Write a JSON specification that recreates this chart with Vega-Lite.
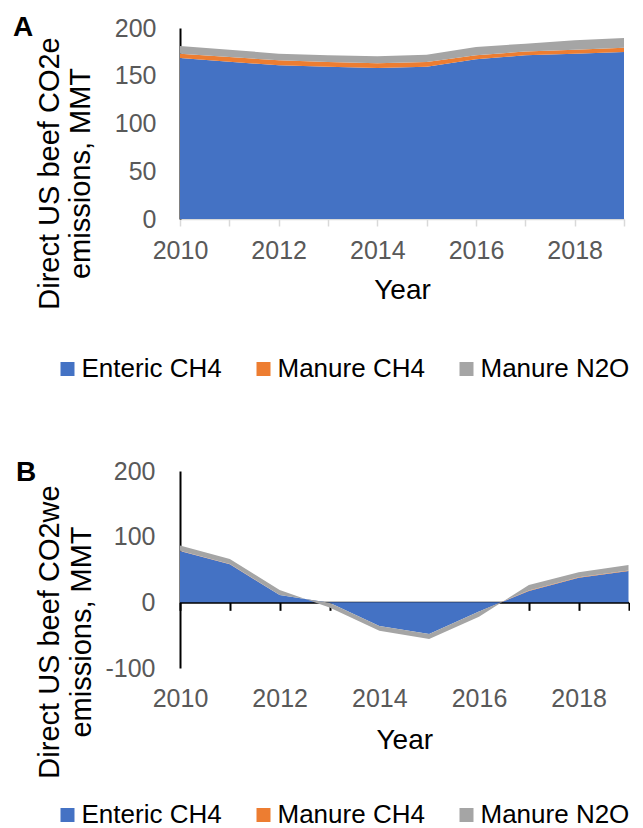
{
  "$schema": "https://vega.github.io/schema/vega-lite/v6.json",
  "padding": {"left": 13, "top": 14, "right": 0, "bottom": 0},
  "spacing": 76,
  "config": {
    "font": "Liberation Sans",
    "view": {"stroke": null},
    "axis": {"grid": false, "labelFont": "Liberation Sans", "titleFont": "Liberation Sans", "labelColor": "#595959", "labelFontSize": 25, "titleColor": "#000000", "titleFontWeight": "normal", "zindex": 1},
    "legend": {"labelFont": "Liberation Sans", "labelFontSize": 26, "labelColor": "#000000", "symbolType": "square", "symbolSize": 196, "symbolStrokeWidth": 0, "symbolOpacity": 1, "labelOffset": 1, "columnPadding": 28, "padding": 0, "labelLimit": 300, "direction": "horizontal", "orient": "none"},
    "title": {"font": "Liberation Sans", "fontSize": 28, "fontWeight": "bold", "color": "#000000", "anchor": "start", "frame": "group", "baseline": "alphabetic", "offset": 0}
  },
  "resolve": {"scale": {"color": "independent"}},
  "vconcat": [
    {
      "width": 444,
      "height": 191,
      "title": {"text": "A", "dx": -167, "dy": 30},
      "data": {"values": [
        {"year": 2010, "series": "Enteric CH4", "value": 168.6},
        {"year": 2010, "series": "Manure CH4", "value": 4.5},
        {"year": 2010, "series": "Manure N2O", "value": 8.1},
        {"year": 2011, "series": "Enteric CH4", "value": 164.7},
        {"year": 2011, "series": "Manure CH4", "value": 4.9},
        {"year": 2011, "series": "Manure N2O", "value": 7.7},
        {"year": 2012, "series": "Enteric CH4", "value": 160.9},
        {"year": 2012, "series": "Manure CH4", "value": 5.2},
        {"year": 2012, "series": "Manure N2O", "value": 7.0},
        {"year": 2013, "series": "Enteric CH4", "value": 159.5},
        {"year": 2013, "series": "Manure CH4", "value": 4.9},
        {"year": 2013, "series": "Manure N2O", "value": 7.0},
        {"year": 2014, "series": "Enteric CH4", "value": 158.1},
        {"year": 2014, "series": "Manure CH4", "value": 4.9},
        {"year": 2014, "series": "Manure N2O", "value": 7.3},
        {"year": 2015, "series": "Enteric CH4", "value": 159.5},
        {"year": 2015, "series": "Manure CH4", "value": 4.9},
        {"year": 2015, "series": "Manure N2O", "value": 7.6},
        {"year": 2016, "series": "Enteric CH4", "value": 167.2},
        {"year": 2016, "series": "Manure CH4", "value": 4.3},
        {"year": 2016, "series": "Manure N2O", "value": 8.6},
        {"year": 2017, "series": "Enteric CH4", "value": 171.4},
        {"year": 2017, "series": "Manure CH4", "value": 4.0},
        {"year": 2017, "series": "Manure N2O", "value": 8.2},
        {"year": 2018, "series": "Enteric CH4", "value": 173.1},
        {"year": 2018, "series": "Manure CH4", "value": 4.2},
        {"year": 2018, "series": "Manure N2O", "value": 9.8},
        {"year": 2019, "series": "Enteric CH4", "value": 174.9},
        {"year": 2019, "series": "Manure CH4", "value": 4.5},
        {"year": 2019, "series": "Manure N2O", "value": 10.1}
      ]},
      "mark": {"type": "area", "interpolate": "linear", "opacity": 1},
      "encoding": {
        "x": {"field": "year", "type": "quantitative",
          "scale": {"domain": [2010, 2019], "nice": false, "zero": false},
          "axis": {"values": [2010, 2011, 2012, 2013, 2014, 2015, 2016, 2017, 2018, 2019], "format": "d",
            "labelExpr": "datum.value % 2 === 0 ? datum.label : ''", "labelFlush": false, "labelOverlap": false,
            "domainColor": "#D9D9D9", "domainWidth": 1.5, "tickColor": "#D9D9D9", "tickSize": 7, "tickWidth": 1.5,
            "labelPadding": 12, "title": "Year", "titleFontSize": 28, "titlePadding": 13}},
        "y": {"field": "value", "type": "quantitative", "stack": "zero",
          "scale": {"domain": [0, 200], "nice": false},
          "axis": {"values": [0, 50, 100, 150, 200], "ticks": false, "domainColor": "#000000", "domainWidth": 2,
            "labelPadding": 24, "title": ["Direct US beef CO2e", "emissions, MMT"], "titleFontSize": 29,
            "titleLineHeight": 31, "titlePadding": 19, "titleY": 145}},
        "color": {"field": "series", "type": "nominal",
          "scale": {"domain": ["Enteric CH4", "Manure CH4", "Manure N2O"], "range": ["#4472C4", "#ED7D31", "#A5A5A5"]},
          "legend": {"title": null, "legendX": -125.5, "legendY": 328}},
        "order": {"field": "series", "type": "nominal", "sort": "ascending"}
      }
    },
    {
      "width": 448.5,
      "height": 197,
      "title": {"text": "B", "dx": -164, "dy": 31.5},
      "data": {"values": [
        {"year": 2010, "series": "Enteric CH4", "value": 78.1},
        {"year": 2010, "series": "Manure CH4", "value": 0.3},
        {"year": 2010, "series": "Manure N2O", "value": 8.0},
        {"year": 2011, "series": "Enteric CH4", "value": 58.0},
        {"year": 2011, "series": "Manure CH4", "value": 0.2},
        {"year": 2011, "series": "Manure N2O", "value": 7.9},
        {"year": 2012, "series": "Enteric CH4", "value": 11.2},
        {"year": 2012, "series": "Manure CH4", "value": 0.1},
        {"year": 2012, "series": "Manure N2O", "value": 7.6},
        {"year": 2013, "series": "Enteric CH4", "value": -0.6},
        {"year": 2013, "series": "Manure CH4", "value": -0.1},
        {"year": 2013, "series": "Manure N2O", "value": -7.3},
        {"year": 2014, "series": "Enteric CH4", "value": -36.0},
        {"year": 2014, "series": "Manure CH4", "value": -0.1},
        {"year": 2014, "series": "Manure N2O", "value": -7.2},
        {"year": 2015, "series": "Enteric CH4", "value": -48.3},
        {"year": 2015, "series": "Manure CH4", "value": -0.1},
        {"year": 2015, "series": "Manure N2O", "value": -7.4},
        {"year": 2016, "series": "Enteric CH4", "value": -13.8},
        {"year": 2016, "series": "Manure CH4", "value": -0.1},
        {"year": 2016, "series": "Manure N2O", "value": -8.1},
        {"year": 2017, "series": "Enteric CH4", "value": 17.3},
        {"year": 2017, "series": "Manure CH4", "value": 0.6},
        {"year": 2017, "series": "Manure N2O", "value": 8.6},
        {"year": 2018, "series": "Enteric CH4", "value": 37.6},
        {"year": 2018, "series": "Manure CH4", "value": 0.5},
        {"year": 2018, "series": "Manure N2O", "value": 7.6},
        {"year": 2019, "series": "Enteric CH4", "value": 47.8},
        {"year": 2019, "series": "Manure CH4", "value": 0.5},
        {"year": 2019, "series": "Manure N2O", "value": 8.7}
      ]},
      "mark": {"type": "area", "interpolate": "linear", "opacity": 1},
      "encoding": {
        "x": {"field": "year", "type": "quantitative",
          "scale": {"domain": [2010, 2019], "nice": false, "zero": false},
          "axis": {"values": [2010, 2011, 2012, 2013, 2014, 2015, 2016, 2017, 2018, 2019], "format": "d",
            "labelExpr": "datum.value % 2 === 0 ? datum.label : ''", "labelFlush": false, "labelOverlap": false,
            "offset": -65.67, "domainColor": "#000000", "domainWidth": 2, "tickColor": "#000000", "tickSize": 8, "tickWidth": 2,
            "labelPadding": 75.7, "title": "Year", "titleFontSize": 28, "titlePadding": 15}},
        "y": {"field": "value", "type": "quantitative", "stack": "zero",
          "scale": {"domain": [-100, 200], "nice": false, "zero": false},
          "axis": {"values": [-100, 0, 100, 200], "ticks": false, "domainColor": "#000000", "domainWidth": 2,
            "labelExpr": "'' + datum.value",
            "labelPadding": 25, "title": ["Direct US beef CO2we", "emissions, MMT"], "titleFontSize": 29,
            "titleLineHeight": 32, "titlePadding": 8, "titleY": 160.5}},
        "color": {"field": "series", "type": "nominal",
          "scale": {"domain": ["Enteric CH4", "Manure CH4", "Manure N2O"], "range": ["#4472C4", "#ED7D31", "#A5A5A5"]},
          "legend": {"title": null, "legendX": -125.5, "legendY": 331}},
        "order": {"field": "series", "type": "nominal", "sort": "ascending"}
      }
    }
  ]
}
